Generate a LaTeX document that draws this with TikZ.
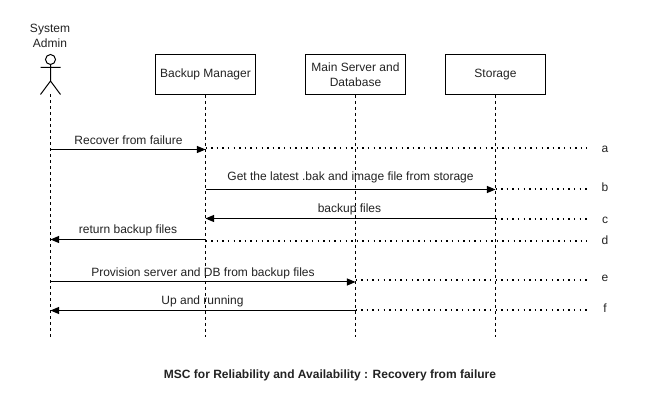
\documentclass[tikz,border=0pt]{standalone}
\usepackage{fontspec}
\setmainfont{Liberation Sans}
\usetikzlibrary{arrows}
\usepackage{xcolor}
\definecolor{labelgray}{HTML}{222222}

\begin{document}
\begin{tikzpicture}[x=1pt, y=-1pt, line width=1pt,
                    party node/.style={rectangle,draw,minimum width=100pt,minimum height=40pt,inner sep=0pt,align=center,font=\fontsize{12}{15}\selectfont,text=labelgray},
                    msg label/.style={inner sep=0pt,font=\fontsize{12}{14}\selectfont,text=labelgray},
                    life line/.style={dash pattern=on 3pt off 3pt},
                    trace line/.style={line width=1.4pt,dash pattern=on 1.4pt off 4.2pt},
                    msg/.style={-triangle 45}]
  \useasboundingbox (0,0) rectangle (656,411);

  \node[party node] (manager) at (205.5,74.5) {Backup Manager};
  \node[party node] (server) at (355.5,74.5) {Main Server and\\Database};
  \node[party node] (storage) at (495.5,74.5) {Storage};

  % actor
  \node[msg label,align=center,font=\fontsize{12}{15}\selectfont] (admin) at (50,36) {System\\Admin};
  \node[circle,draw,minimum size=10pt,inner sep=0pt] (head) at (50.5,59.5) {};
  \coordinate (armL) at (40.5,67.5);
  \coordinate (armR) at (60.5,67.5);
  \coordinate (hip) at (50.5,81);
  \coordinate (footL) at (40.5,94.5);
  \coordinate (footR) at (60.5,94.5);
  \draw (head) -- (hip) (armL) -- (armR) (footL) -- (hip) -- (footR);

  % ends of the life lines
  \coordinate (adminEnd) at (50.5,337);
  \coordinate (managerEnd) at (205.5,337);
  \coordinate (serverEnd) at (355.5,337);
  \coordinate (storageEnd) at (495.5,337);
  \draw[life line] (footL -| hip) -- (adminEnd);
  \draw[life line] (manager) -- (managerEnd);
  \draw[life line] (server) -- (serverEnd);
  \draw[life line] (storage) -- (storageEnd);

  % messages
  \coordinate (a1) at (50.5,149.5);
  \coordinate (a2) at (205.5,149.5);
  \coordinate (b1) at (205.5,189.5);
  \coordinate (b2) at (495.5,189.5);
  \coordinate (c1) at (495.5,218.5);
  \coordinate (c2) at (205.5,218.5);
  \coordinate (d1) at (205.5,239.5);
  \coordinate (d2) at (50.5,239.5);
  \coordinate (e1) at (50.5,282);
  \coordinate (e2) at (355.5,282);
  \coordinate (f1) at (355.5,310.5);
  \coordinate (f2) at (50.5,310.5);

  \draw[msg] (a1) -- (a2);
  \draw[msg] (b1) -- (b2);
  \draw[msg] (c1) -- (c2);
  \draw[msg] (d1) -- (d2);
  \draw[msg] (e1) -- (e2);
  \draw[msg] (f1) -- (f2);

  \node[msg label] (msga) at (128.5,140.5) {Recover from failure};
  \node[msg label] (msgb) at (350.5,177) {Get the latest .bak and image file from storage};
  \node[msg label] (msgc) at (349.5,209.5) {backup files};
  \node[msg label] (msgd) at (128,230) {return backup files};
  \node[msg label] (msge) at (203,273) {Provision server and DB from backup files};
  \node[msg label] (msgf) at (202.5,301) {Up and running};

  % trace lines and their letters
  \node[msg label] (a) at (605,149) {a};
  \node[msg label] (b) at (605,187) {b};
  \node[msg label] (c) at (605,220) {c};
  \node[msg label] (d) at (605,240.5) {d};
  \node[msg label] (e) at (605,278.5) {e};
  \node[msg label] (f) at (605,308.5) {f};

  \coordinate (aEnd) at (587,148);
  \coordinate (bEnd) at (587,189);
  \coordinate (cEnd) at (587,219);
  \coordinate (dEnd) at (587,241);
  \coordinate (eEnd) at (587,280);
  \coordinate (fEnd) at (587,310);
  \coordinate (aStart) at (205.5,148);
  \coordinate (bStart) at (495.5,189);
  \coordinate (cStart) at (495.5,219);
  \coordinate (dStart) at (205.5,241);
  \coordinate (eStart) at (355.5,280);
  \coordinate (fStart) at (355.5,310);

  \draw[trace line] (aStart) -- (aEnd);
  \draw[trace line] (bStart) -- (bEnd);
  \draw[trace line] (cStart) -- (cEnd);
  \draw[trace line] (dStart) -- (dEnd);
  \draw[trace line] (eStart) -- (eEnd);
  \draw[trace line] (fStart) -- (fEnd);

  \node[msg label,font=\fontsize{12}{14}\selectfont\bfseries] (title) at (330,375) {MSC for Reliability and Availability : Recovery from failure};
\end{tikzpicture}
\end{document}
